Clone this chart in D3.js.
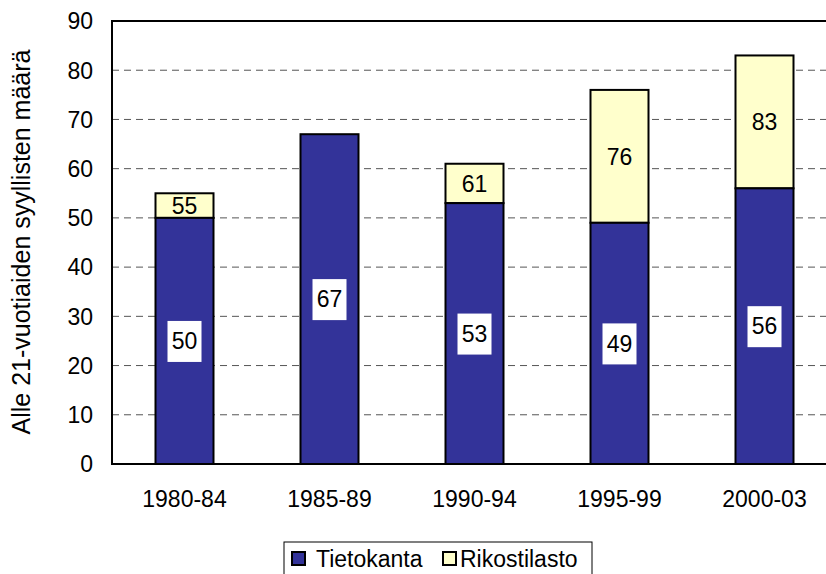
<!DOCTYPE html>
<html>
<head>
<meta charset="utf-8">
<script src="https://cdn.jsdelivr.net/npm/d3@7"></script>
<style>
  body { margin: 0; background: #fff; }
  text { font-family: "Liberation Sans", Arial, sans-serif; fill: #000; }
</style>
</head>
<body>
<script>
const categories = ['1980-84', '1985-89', '1990-94', '1995-99', '2000-03'];
const tietokanta = [50, 67, 53, 49, 56];
const rikostilasto = [55, null, 61, 76, 83]; // total reaching this height
const seriesNames = ['Tietokanta', 'Rikostilasto'];
const seriesColors = ['#333399', '#ffffcc'];
const yTicks = [0, 10, 20, 30, 40, 50, 60, 70, 80, 90];

const width = 826, height = 574;
const plotLeft = 112, plotTop = 21, plotBottom = 464;
const fs = 23;

const svg = d3.select('body').append('svg')
  .attr('width', width)
  .attr('height', height);

const x = d3.scaleBand()
  .domain(categories)
  .range([plotLeft, plotLeft + 145 * categories.length])
  .paddingInner(0.6)
  .paddingOuter(0.3);

const y = d3.scaleLinear().domain([0, 90]).range([plotBottom, plotTop]);

// grid lines
svg.append('g')
  .selectAll('line')
  .data(yTicks.filter(d => d > 0 && d < 90))
  .enter()
  .append('line')
  .attr('x1', plotLeft).attr('x2', width)
  .attr('y1', d => y(d)).attr('y2', d => y(d))
  .attr('stroke', '#555')
  .attr('stroke-width', 1)
  .attr('stroke-dasharray', '7,5');

// bars
const rows = categories.map((c, i) => ({
  cat: c,
  base: tietokanta[i],
  total: rikostilasto[i]
}));

const g = svg.append('g');

g.selectAll('rect.top')
  .data(rows.filter(d => d.total != null))
  .enter()
  .append('rect')
  .attr('x', d => x(d.cat))
  .attr('width', x.bandwidth())
  .attr('y', d => y(d.total))
  .attr('height', d => y(d.base) - y(d.total))
  .attr('fill', seriesColors[1])
  .attr('stroke', '#000')
  .attr('stroke-width', 2);

g.selectAll('rect.base')
  .data(rows)
  .enter()
  .append('rect')
  .attr('x', d => x(d.cat))
  .attr('width', x.bandwidth())
  .attr('y', d => y(d.base))
  .attr('height', d => y(0) - y(d.base))
  .attr('fill', seriesColors[0])
  .attr('stroke', '#000')
  .attr('stroke-width', 2);

// labels for base series (white boxes)
const baseLab = g.selectAll('g.blab')
  .data(rows)
  .enter()
  .append('g')
  .attr('transform', d => `translate(${x(d.cat) + x.bandwidth() / 2},${(y(0) + y(d.base)) / 2})`);
baseLab.append('rect')
  .attr('x', -17).attr('y', -20)
  .attr('width', 34).attr('height', 41)
  .attr('fill', '#fff');
baseLab.append('text')
  .attr('text-anchor', 'middle')
  .attr('dy', '0.36em')
  .attr('font-size', fs)
  .text(d => d.base);

// labels for totals
g.selectAll('text.tlab')
  .data(rows.filter(d => d.total != null))
  .enter()
  .append('text')
  .attr('x', d => x(d.cat) + x.bandwidth() / 2)
  .attr('y', d => (y(d.base) + y(d.total)) / 2)
  .attr('text-anchor', 'middle')
  .attr('dy', '0.36em')
  .attr('font-size', fs)
  .text(d => d.total);

// axes frame
svg.append('line')
  .attr('x1', plotLeft).attr('x2', width)
  .attr('y1', plotTop).attr('y2', plotTop)
  .attr('stroke', '#000').attr('stroke-width', 2);
svg.append('line')
  .attr('x1', plotLeft).attr('x2', width)
  .attr('y1', plotBottom).attr('y2', plotBottom)
  .attr('stroke', '#000').attr('stroke-width', 2);
svg.append('line')
  .attr('x1', plotLeft).attr('x2', plotLeft)
  .attr('y1', plotTop - 1).attr('y2', plotBottom + 1)
  .attr('stroke', '#000').attr('stroke-width', 2);

// y tick labels
svg.append('g')
  .selectAll('text')
  .data(yTicks)
  .enter()
  .append('text')
  .attr('x', plotLeft - 19)
  .attr('y', d => y(d))
  .attr('dy', '0.36em')
  .attr('text-anchor', 'end')
  .attr('font-size', fs)
  .text(d => d);

// x tick labels
svg.append('g')
  .selectAll('text')
  .data(categories)
  .enter()
  .append('text')
  .attr('x', d => x(d) + x.bandwidth() / 2)
  .attr('y', 507)
  .attr('text-anchor', 'middle')
  .attr('font-size', fs)
  .text(d => d);

// y axis title
svg.append('text')
  .attr('transform', 'translate(30,242) rotate(-90)')
  .attr('text-anchor', 'middle')
  .attr('font-size', 25)
  .text('Alle 21-vuotiaiden syyllisten määrä');

// legend
const leg = svg.append('g').attr('transform', 'translate(284,542)');
leg.append('rect')
  .attr('x', 0).attr('y', 0)
  .attr('width', 308).attr('height', 40)
  .attr('fill', '#fff')
  .attr('stroke', '#000')
  .attr('stroke-width', 1);
const legItems = [{ name: seriesNames[0], color: seriesColors[0], x: 8 },
                  { name: seriesNames[1], color: seriesColors[1], x: 159 }];
const li = leg.selectAll('g')
  .data(legItems)
  .enter()
  .append('g')
  .attr('transform', d => `translate(${d.x},0)`);
li.append('rect')
  .attr('x', 0).attr('y', 10)
  .attr('width', 13).attr('height', 13)
  .attr('fill', d => d.color)
  .attr('stroke', '#000')
  .attr('stroke-width', 2);
li.append('text')
  .attr('x', d => d.x === 8 ? 24 : 17).attr('y', 25)
  .attr('font-size', fs)
  .text(d => d.name);
</script>
</body>
</html>
